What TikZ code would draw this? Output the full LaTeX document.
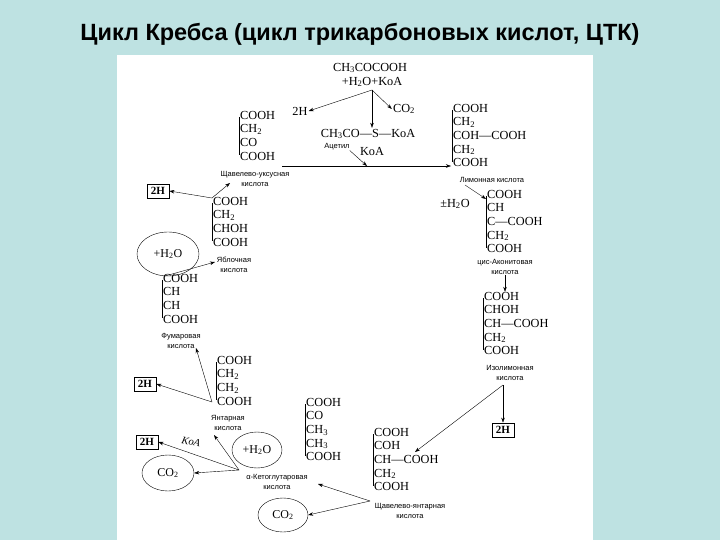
\documentclass[tikz,border=0pt]{standalone}
\usepackage{fontspec}
\setmainfont{Liberation Serif}
\setsansfont{Liberation Sans}
\usetikzlibrary{arrows.meta,shapes.geometric}
\definecolor{bg}{RGB}{190,226,226}
\newcommand{\sub}[1]{\textsubscript{#1}}
\newcommand{\stk}[4]{%
  \node[stack] (#1) at (#2,#3) {#4};
  \draw[thin] ([xshift=1.2pt,yshift=-6pt]#1.north west) -- ([xshift=1.2pt,yshift=5pt]#1.south west);}
\tikzset{
  stack/.style={font=\fontsize{12.3}{13.6}\selectfont, align=left, inner xsep=2pt, inner ysep=0pt, anchor=north west},
  chem/.style={font=\fontsize{12.3}{13.6}\selectfont, inner sep=1pt},
  lbl/.style={font=\sffamily\fontsize{7.5}{10}\selectfont, align=center, inner sep=0pt},
  arr/.style={-{Stealth[length=5pt,width=3.5pt]}, thin},
  hbox/.style={draw, thick, font=\fontsize{11}{12}\bfseries\selectfont, minimum width=22pt, minimum height=14pt, inner sep=1pt},
  oval/.style={draw, ellipse, thin, font=\fontsize{12}{13}\selectfont, inner sep=0pt}
}
\begin{document}
\begin{tikzpicture}[x=1pt,y=-1pt]
\fill[bg] (0,0) rectangle (720,540);
\useasboundingbox (0,0) rectangle (720,540);
\fill[white] (117,55) rectangle (593,540);
\node[font=\sffamily\bfseries\fontsize{23.5}{26}\selectfont] (title) at (360,34) {Цикл Кребса (цикл трикарбоновых кислот, ЦТК)};
% pyruvate
\node[chem] (pyr1) at (370,68) {CH\sub{3}COCOOH};
\node[chem] (pyr2) at (372,82) {+H\sub{2}O+KoA};
\coordinate (ps) at (372,90);
\node[chem] (h2a) at (300,111) {2H};
\node[chem] (co2a) at (404,109) {CO\sub{2}};
\node[chem] (acet) at (368,134) {CH\sub{3}CO—S—KoA};
\node[lbl] (acl) at (337,147) {Ацетил};
\node[chem] (koa) at (372,152) {KoA};
\draw[arr] (ps) -- (h2a.east);
\draw[arr] (ps) -- (co2a.west);
\draw[arr] (ps) -- (acet.north-|ps);
% oxaloacetate
\stk{oxa}{238}{111}{COOH\\CH\sub{2}\\CO\\COOH}
\node[lbl] (oxal) at (255,179) {Щавелево-уксусная\\кислота};
\coordinate (mA) at (282,166);
\coordinate (mB) at (451,166);
\coordinate (mC) at (367,166);
\draw[arr] (mA) -- (mB);
\draw[arr] (acl.south east) -- (mC);
% citrate
\stk{cit}{451}{104}{COOH\\CH\sub{2}\\COH—COOH\\CH\sub{2}\\COOH}
\node[lbl] (citl) at (492,180) {Лимонная кислота};
\coordinate (c1) at (465,185);
\draw[arr] (c1) -- (486,199);
\node[chem] (h2o1) at (455,204) {±H\sub{2}O};
% cis-aconitate
\stk{aco}{485}{190}{COOH\\CH\\C—COOH\\CH\sub{2}\\COOH}
\node[lbl] (acol) at (505,267) {цис-Аконитовая\\кислота};
\draw[arr] (acol.south) -- ++(0,17) coordinate (a2);
% isocitrate
\stk{iso}{482}{292}{COOH\\CHOH\\CH—COOH\\CH\sub{2}\\COOH}
\node[lbl] (isol) at (510,373) {Изолимонная\\кислота};
\coordinate (i1) at (503,385);
\node[hbox] (h2b) at (503,430) {2H};
\draw[arr] (i1) -- (h2b.north);
\draw[arr] (i1) -- (415,452);
% oxalosuccinate
\stk{oxs}{372}{428}{COOH\\COH\\CH—COOH\\CH\sub{2}\\COOH}
\node[lbl] (oxsl) at (410,511) {Щавелево-янтарная\\кислота};
\coordinate (o1) at (370,501);
\node[oval, minimum width=50pt, minimum height=34pt] (co2b) at (283,515) {CO\sub{2}};
\draw[arr] (o1) -- (318,484);
\draw[arr] (o1) -- (co2b.east);
% alpha-ketoglutarate
\stk{akg}{304}{398}{COOH\\CO\\CH\sub{3}\\CH\sub{3}\\COOH}
\node[lbl] (akgl) at (277,482) {α-Кетоглутаровая\\кислота};
\node[oval, minimum width=50pt, minimum height=36pt] (h2o2) at (257,450) {+H\sub{2}O};
\coordinate (k1) at (239,470);
\node[hbox] (h2c) at (147,442) {2H};
\node[oval, minimum width=52pt, minimum height=36pt] (co2c) at (168,473) {CO\sub{2}};
\node[font=\fontsize{10.5}{11}\itshape\selectfont, rotate=-12] (koa2) at (191,442) {KoA};
\draw[arr] (k1) -- (h2c.east);
\draw[arr] (k1) -- (co2c.east);
\draw[arr] (k1) -- (214,435);
% succinate
\stk{suc}{215}{356}{COOH\\CH\sub{2}\\CH\sub{2}\\COOH}
\node[lbl] (sucl) at (228,423) {Янтарная\\кислота};
\coordinate (s1) at (212,402);
\node[hbox] (h2d) at (145,384) {2H};
\draw[arr] (s1) -- (h2d.east);
\draw[arr] (s1) -- (196,348);
% fumarate
\stk{fum}{161}{274}{COOH\\CH\\CH\\COOH}
\node[lbl] (fuml) at (181,341) {Фумаровая\\кислота};
\node[oval, minimum width=62pt, minimum height=44pt] (h2o3) at (168,254) {+H\sub{2}O};
\draw[arr] (165,276) -- (215,262);
% malate
\stk{mal}{211}{197}{COOH\\CH\sub{2}\\CHOH\\COOH}
\node[lbl] (mall) at (234,265) {Яблочная\\кислота};
\coordinate (m1) at (212,198);
\node[hbox] (h2e) at (158,191) {2H};
\draw[arr] (m1) -- (h2e.east);
\draw[arr] (m1) -- (230,183);
\end{tikzpicture}
\end{document}
